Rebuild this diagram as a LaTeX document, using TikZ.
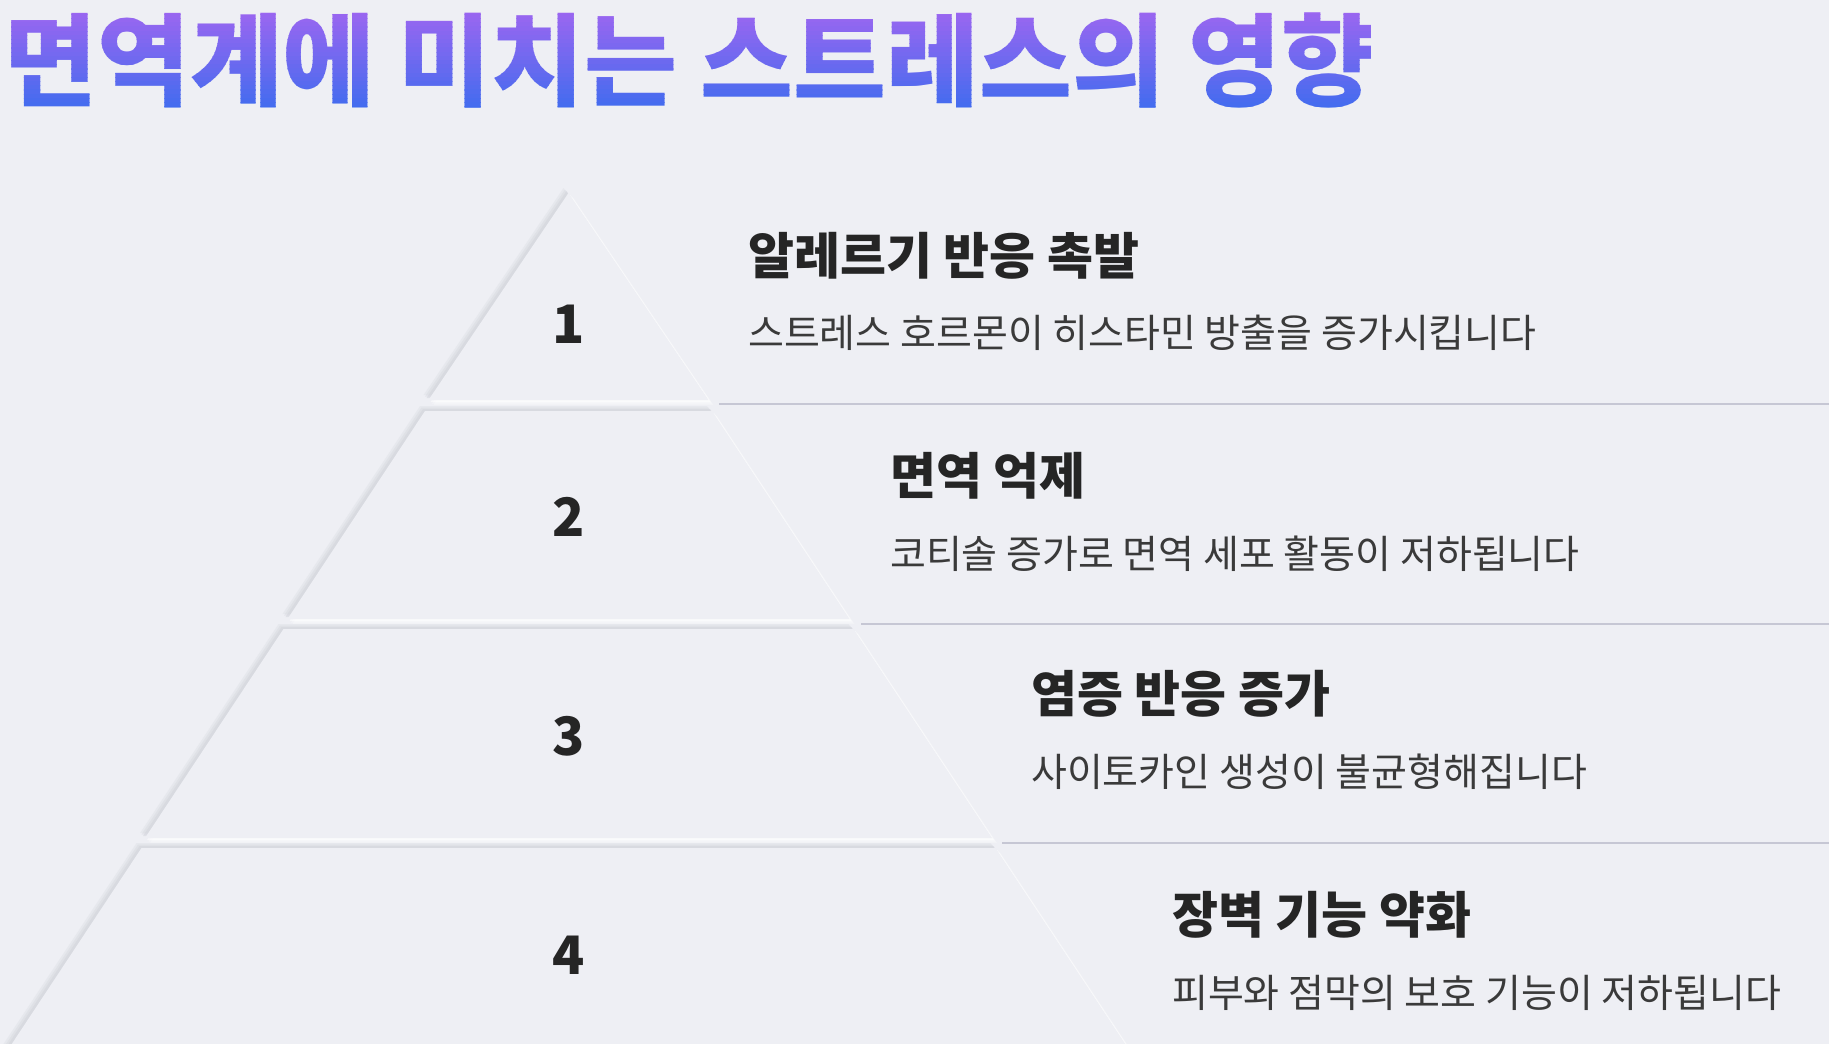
\documentclass[tikz,border=0pt]{standalone}
\usepackage{fontspec}
\setmainfont{Noto Sans CJK KR}
\usetikzlibrary{calc}
\definecolor{bg}{HTML}{EEEFF4}
\definecolor{shd}{HTML}{D2D4DB}
\definecolor{sep}{HTML}{C6C7D4}
\definecolor{ttop}{HTML}{9D66F0}
\definecolor{tbot}{HTML}{3F6CEF}
\definecolor{head}{HTML}{252525}
\definecolor{desc}{HTML}{3A3A3A}
\tikzset{
  sepline/.style={draw=sep, line width=2.5pt},
  numtext/.style={font=\fontsize{53}{60}\selectfont\bfseries, text=head, inner sep=0pt},
  headtext/.style={font=\fontsize{50}{58}\selectfont\bfseries, text=head, anchor=west, inner sep=0pt},
  desctext/.style={font=\fontsize{39}{46}\selectfont, text=desc, anchor=west, inner sep=0pt},
  titletext/.style={font=\fontsize{101}{110}\selectfont\bfseries, anchor=west, inner sep=0pt},
}
% #1 top y, #2 top half width, #3 bottom y, #4 bottom half width
\newcommand\pyrlayer[4]{%
  \foreach \o/\a in {5/0.25,3.5/0.35,2/0.5}{%
    \fill[shd, opacity=\a] ({568.5-#2-\o},{#1-\o}) -- ({568.5+#2-\o},{#1-\o}) -- ({568.5+#4-\o},{#3-\o}) -- ({568.5-#4-\o},{#3-\o}) -- cycle;
    \fill[white, opacity=\a] ({568.5-#2+\o},{#1+\o}) -- ({568.5+#2+\o},{#1+\o}) -- ({568.5+#4+\o},{#3+\o}) -- ({568.5-#4+\o},{#3+\o}) -- cycle;
  }
  \fill[bg] ({568.5-#2},{#1}) -- ({568.5+#2},{#1}) -- ({568.5+#4},{#3}) -- ({568.5-#4},{#3}) -- cycle;
}
\begin{document}
\begin{tikzpicture}[x=1pt,y=-1pt]
\useasboundingbox (0,0) rectangle (1829,1044);
\fill[bg] (0,0) rectangle (1829,1044);

% title with vertical gradient (stepped)
\foreach \i in {0,...,23}{
  \pgfmathsetmacro\ya{10+\i*4.2}
  \pgfmathsetmacro\yb{\ya+4.4}
  \pgfmathtruncatemacro\pc{(\i+0.5)/24*100}
  \begin{scope}
    \clip (0,\ya) rectangle (1829,\yb);
    \node[titletext, text=tbot!\pc!ttop] (title\i) at (4,61) {면역계에 미치는 스트레스의 영향};
  \end{scope}
}

% pyramid layers
\pyrlayer{193}{0}{400}{140}
\pyrlayer{411}{143.5}{619}{281}
\pyrlayer{629}{285}{838}{423.5}
\pyrlayer{848}{427}{1058}{566}

% numbers
\node[numtext] (n1) at (568.5,324) {1};
\node[numtext] (n2) at (568.5,517) {2};
\node[numtext] (n3) at (568.5,736) {3};
\node[numtext] (n4) at (568.5,955) {4};

% separators
\coordinate (s1a) at (719,404); \coordinate (s1b) at (1829,404);
\coordinate (s2a) at (861,624); \coordinate (s2b) at (1829,624);
\coordinate (s3a) at (1002,843); \coordinate (s3b) at (1829,843);
\draw[sepline] (s1a) -- (s1b);
\draw[sepline] (s2a) -- (s2b);
\draw[sepline] (s3a) -- (s3b);

% texts
\node[headtext] (h1) at (748,256) {알레르기 반응 촉발};
\node[desctext] (d1) at (748,333) {스트레스 호르몬이 히스타민 방출을 증가시킵니다};
\node[headtext] (h2) at (890,476) {면역 억제};
\node[desctext] (d2) at (890,554) {코티솔 증가로 면역 세포 활동이 저하됩니다};
\node[headtext] (h3) at (1031,694) {염증 반응 증가};
\node[desctext] (d3) at (1031,772) {사이토카인 생성이 불균형해집니다};
\node[headtext] (h4) at (1172,915) {장벽 기능 약화};
\node[desctext] (d4) at (1172,993) {피부와 점막의 보호 기능이 저하됩니다};
\end{tikzpicture}
\end{document}
